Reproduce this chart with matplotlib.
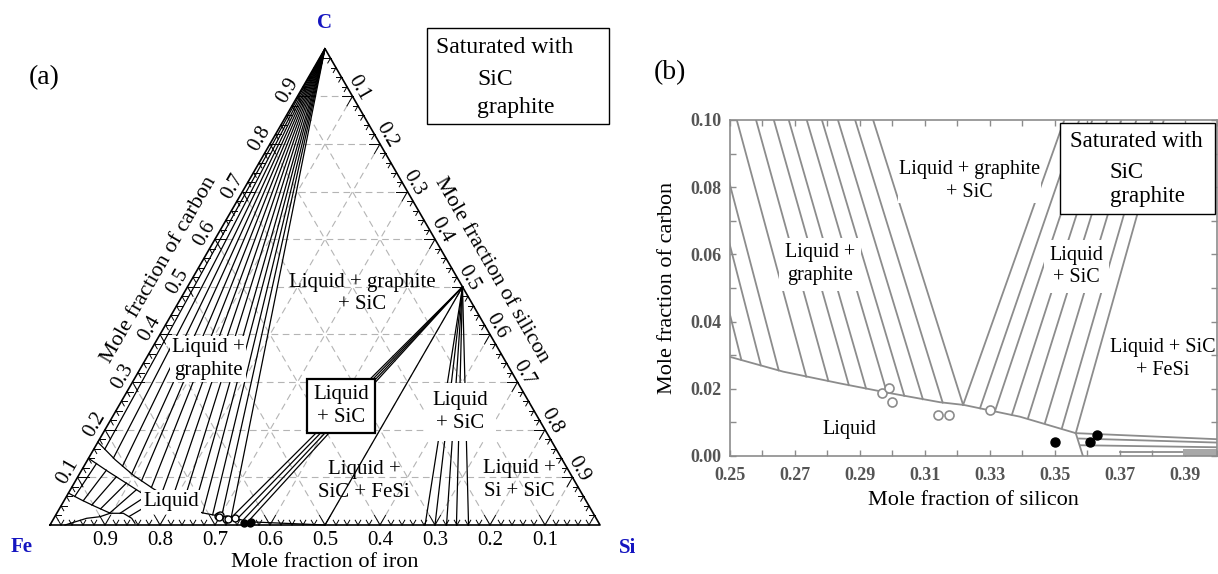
import numpy as np
import matplotlib
matplotlib.use('Agg')
import matplotlib.pyplot as plt
from matplotlib.patches import Rectangle
from matplotlib.ticker import MultipleLocator

plt.rcParams['font.family'] = 'serif'
plt.rcParams['font.serif'] = ['Liberation Serif', 'DejaVu Serif']

# compositions are (mole fraction Si, mole fraction C)
# graphite / SiC liquidus
liq_si = [0.0, 0.05, 0.10, 0.15, 0.20, 0.25, 0.2664, 0.2839, 0.2993, 0.3147, 0.322, 0.3393, 0.3565]
liq_c = [0.174, 0.137, 0.104, 0.076, 0.051, 0.0295, 0.0251, 0.0216, 0.0187, 0.0160, 0.0152, 0.0117, 0.0068]

# liquid ends of liquid + graphite tie lines, panel (a)
fan_si = [0.02, 0.045, 0.07, 0.095, 0.12, 0.145, 0.17, 0.195, 0.22, 0.245, 0.265, 0.285, 0.303, 0.3218]
fan_c = [0.159, 0.1407, 0.1238, 0.1073, 0.0928, 0.0788, 0.066, 0.0535, 0.0424, 0.0317, 0.0254, 0.0214, 0.018, 0.0152]

# liquid ends of liquid + graphite tie lines, panel (b)
gr_si = [0.2535, 0.2595, 0.2650, 0.2735, 0.2803, 0.2866, 0.2919, 0.2983, 0.3037, 0.3094, 0.3155, 0.3218]
gr_c = [0.0286, 0.0270, 0.0255, 0.0236, 0.0223, 0.0211, 0.0201, 0.0189, 0.0179, 0.0169, 0.0159, 0.0152]

# liquid ends of liquid + SiC tie lines (Fe-rich side), panel (a)
sic_a_si = [0.3218, 0.334, 0.346, 0.3565]
sic_a_c = [0.0152, 0.0127, 0.0103, 0.0068]

# liquid ends of liquid + SiC tie lines (Fe-rich side), panel (b)
sic_si = [0.3218, 0.3270, 0.3316, 0.3368, 0.3418, 0.3470, 0.3522, 0.3565]
sic_c = [0.0152, 0.0142, 0.0133, 0.0122, 0.0113, 0.0098, 0.0082, 0.0068]

# liquid ends of liquid + SiC tie lines (Si-rich side)
sic2_si = [0.682, 0.700, 0.721, 0.739, 0.761]
sic2_c = [0.0, 0.0, 0.0, 0.0, 0.0]

SIC = (0.5, 0.5)
FESI = (0.5, 0.0)

# Fe-rich corner (austenite)
gam_liq_si = [0.0, 0.05, 0.10, 0.15, 0.185]
gam_liq_c = [0.140, 0.112, 0.085, 0.058, 0.040]
gam_sol_si = [0.0, 0.03, 0.06, 0.0965]
gam_sol_c = [0.067, 0.053, 0.040, 0.025]
gam_dome_si = [0.0273, 0.0597, 0.0822, 0.0968, 0.121, 0.1415, 0.1527]
gam_dome_c = [0.0, 0.0141, 0.0174, 0.0246, 0.0246, 0.0141, 0.0036]
gam_tie_lo_si = [0.015, 0.035, 0.055, 0.075, 0.096, 0.115, 0.135]
gam_tie_lo_c = [0.060, 0.051, 0.042, 0.034, 0.025, 0.0246, 0.018]
gam_tie_hi_si = [0.02, 0.045, 0.07, 0.095, 0.12, 0.145, 0.165]
gam_tie_hi_c = [0.129, 0.115, 0.101, 0.088, 0.074, 0.061, 0.049]

# FeSi side lines near the base, panel (b)
fesi_edge_si = [0.3565, 0.3587]
fesi_edge_c = [0.0068, 0.0]
fesi_lines_si = [[0.3565, 0.40], [0.3575, 0.40], [0.3580, 0.40], [0.370, 0.3896]]
fesi_lines_c = [[0.0068, 0.0050], [0.0052, 0.0040], [0.0032, 0.0026], [0.0012, 0.0012]]

# measured compositions
open_si = [0.2967, 0.2991, 0.3000, 0.3142, 0.3173, 0.3300]
open_c = [0.0187, 0.0201, 0.0162, 0.0122, 0.0122, 0.0137]
full_si = [0.3501, 0.3609, 0.3629]
full_c = [0.0043, 0.0043, 0.0063]

tick_vals = [0.1, 0.2, 0.3, 0.4, 0.5, 0.6, 0.7, 0.8, 0.9]

BLUE = '#1515c0'
GRAY = '#8c8c8c'
S3 = np.sqrt(3) / 2


def tern(si, c):
    si = np.asarray(si, dtype=float)
    c = np.asarray(c, dtype=float)
    return si + 0.5 * c, c * S3


fig = plt.figure(figsize=(12.18, 5.74), dpi=100)

# ---------------- panel (a): ternary ----------------
ax = fig.add_axes([0, 0, 640 / 1218, 1])
ax.set_xlim(-50 / 550, 590 / 550)
ax.set_ylim(-49 / 550, 525 / 550)
ax.axis('off')

# dashed grid
for k in tick_vals:
    kw = dict(color='#b4b4b4', lw=0.8, dashes=(6, 4), zorder=1)
    ax.plot(*tern([0, 1 - k], [k, k]), **kw)
    ax.plot(*tern([k, k], [0, 1 - k]), **kw)
    ax.plot(*tern([1 - k, 0], [0, 1 - k]), **kw)

# triangle
ax.plot(*tern([0, 1, 0, 0], [0, 0, 1, 0]), color='k', lw=1.2, zorder=3)

# ticks
for i in range(1, 50):
    v = i * 0.02
    L = 0.02 if i % 5 == 0 else 0.01
    px, py = tern(v, 0)
    for dx, dy in [(0.5, S3), (-0.5, S3)]:
        ax.plot([px, px + L * dx], [py, py + L * dy], color='k', lw=0.7, zorder=3)
    px, py = tern(0, v)
    for dx, dy in [(1, 0), (0.5, -S3)]:
        ax.plot([px, px + L * dx], [py, py + L * dy], color='k', lw=0.7, zorder=3)
    px, py = tern(v, 1 - v)
    for dx, dy in [(-1, 0), (-0.5, -S3)]:
        ax.plot([px, px + L * dx], [py, py + L * dy], color='k', lw=0.7, zorder=3)

# tick labels
for v in tick_vals:
    px, py = tern(1 - v, 0)
    ax.text(px, py - 0.0273, '%.1f' % v, ha='center', va='center', fontsize=15)
    px, py = tern(0, v)
    ax.text(px - 0.0205 * 0.866, py + 0.0205 * 0.5, '%.1f' % v, ha='center', va='center',
            fontsize=15, rotation=60, rotation_mode='anchor')
    px, py = tern(v, 1 - v)
    ax.text(px + 0.0176 * 0.866 - 0.008 * 0.5, py + 0.0176 * 0.5 + 0.008 * S3, '%.1f' % v,
            ha='center', va='center', fontsize=15, rotation=-60, rotation_mode='anchor')

ax.text(0.5, -0.069, 'Mole fraction of iron', ha='center', va='center', fontsize=16)
ax.text(0.198, 0.463, 'Mole fraction of carbon', ha='center', va='center', fontsize=16,
        rotation=60, rotation_mode='anchor')
ax.text(0.803, 0.4635, 'Mole fraction of silicon', ha='center', va='center', fontsize=16,
        rotation=-60, rotation_mode='anchor')

ax.text(0.499, 0.9127, 'C', ha='center', va='center', fontsize=15, fontweight='bold', color=BLUE)
ax.text(-0.0515, -0.040, 'Fe', ha='center', va='center', fontsize=15, fontweight='bold', color=BLUE)
ax.text(1.051, -0.042, 'Si', ha='center', va='center', fontsize=15, fontweight='bold', color=BLUE)

line_kw = dict(color='k', lw=0.9, zorder=2)
# graphite fan
for s, c in zip(fan_si, fan_c):
    ax.plot(*tern([0, s], [1, c]), **line_kw)
# SiC tie lines
for s, c in zip(sic_a_si, sic_a_c):
    ax.plot(*tern([SIC[0], s], [SIC[1], c]), **line_kw)
for s, c in zip(sic2_si, sic2_c):
    ax.plot(*tern([SIC[0], s], [SIC[1], c]), **line_kw)
ax.plot(*tern([SIC[0], FESI[0]], [SIC[1], FESI[1]]), **line_kw)
ax.plot(*tern([sic_a_si[-1], FESI[0]], [sic_a_c[-1], FESI[1]]), **line_kw)
ax.plot(*tern(liq_si, liq_c), **line_kw)
# Fe corner
ax.plot(*tern(gam_liq_si, gam_liq_c), **line_kw)
ax.plot(*tern(gam_sol_si, gam_sol_c), **line_kw)
ax.plot(*tern(gam_dome_si, gam_dome_c), **line_kw)
for a, b, c, d in zip(gam_tie_lo_si, gam_tie_lo_c, gam_tie_hi_si, gam_tie_hi_c):
    ax.plot(*tern([a, c], [b, d]), **line_kw)

ax.plot(*tern(open_si, open_c), 'o', ms=5, mfc='white', mec='k', mew=1.0, zorder=4)
ax.plot(*tern(full_si, full_c), 'o', ms=5, mfc='k', mec='k', zorder=4)

white = dict(facecolor='white', edgecolor='none', pad=1.5)
lab_kw = dict(ha='center', va='center', fontsize=15, linespacing=1.25, zorder=6)


def tlabel(si, c, s, **kw):
    x, y = tern(si, c)
    ax.text(x, y, s, **lab_kw, **kw)


tlabel(0.324, 0.486, 'Liquid + graphite\n+ SiC')
tlabel(0.113, 0.3485, 'Liquid +\ngraphite', bbox=white)
tlabel(0.404, 0.250, 'Liquid\n+ SiC',
       bbox=dict(boxstyle='square,pad=0.3', facecolor='white', edgecolor='k', lw=1.6))
tlabel(0.627, 0.2373, 'Liquid\n+ SiC', bbox=dict(facecolor='white', edgecolor='none', pad=6))
tlabel(0.5247, 0.0924, 'Liquid +\nSiC + FeSi')
tlabel(0.8055, 0.0945, 'Liquid +\nSi + SiC')
tlabel(0.196, 0.0483, 'Liquid', bbox=white)

ax.add_patch(Rectangle((0.6855, 0.7291), 0.3309, 0.1745, facecolor='white', edgecolor='k',
                       lw=1.0, zorder=6))
ax.text(0.7018, 0.8673, 'Saturated with', ha='left', va='center', fontsize=17, zorder=7)
ax.text(0.7764, 0.8091, 'SiC', ha='left', va='center', fontsize=17, zorder=7)
ax.text(0.7764, 0.7600, 'graphite', ha='left', va='center', fontsize=17, zorder=7)

fig.text(44 / 1218, 1 - 78 / 574, '(a)', ha='center', va='center', fontsize=20)
fig.text(670 / 1218, 1 - 73 / 574, '(b)', ha='center', va='center', fontsize=20)

# ---------------- panel (b): enlargement ----------------
bx = fig.add_axes([730 / 1218, 118 / 574, 487 / 1218, 336 / 574])
bx.set_xlim(0.25, 0.40)
bx.set_ylim(0, 0.10)

g_kw = dict(color=GRAY, lw=1.3, zorder=2)
for s, c in zip(gr_si, gr_c):
    bx.plot([0, s], [1, c], **g_kw)
for s, c in zip(sic_si, sic_c):
    bx.plot([SIC[0], s], [SIC[1], c], **g_kw)
bx.plot(liq_si, liq_c, **g_kw)
bx.plot(fesi_edge_si, fesi_edge_c, **g_kw)
for s, c in zip(fesi_lines_si, fesi_lines_c):
    bx.plot(s, c, **g_kw)
bx.fill_between([0.3896, 0.40], 0, 0.0022, color='#a8a8a8', lw=0, zorder=2)

bx.plot(open_si, open_c, 'o', ms=6.5, mfc='white', mec=GRAY, mew=1.2, zorder=4)
bx.plot(full_si, full_c, 'o', ms=6.5, mfc='k', mec='k', zorder=4)

bx.set_xticks([0.25, 0.27, 0.29, 0.31, 0.33, 0.35, 0.37, 0.39])
bx.set_yticks([0.0, 0.02, 0.04, 0.06, 0.08, 0.10])
bx.xaxis.set_minor_locator(MultipleLocator(0.01))
bx.yaxis.set_minor_locator(MultipleLocator(0.01))
bx.set_xticklabels(['%.2f' % v for v in bx.get_xticks()])
bx.set_yticklabels(['%.2f' % v for v in bx.get_yticks()])
bx.tick_params(which='both', direction='in', top=True, right=True, length=4, width=1,
               color=GRAY, labelcolor='#555555', labelsize=13)
bx.tick_params(axis='x', pad=8)
bx.tick_params(axis='y', pad=6)
for lab in bx.get_xticklabels() + bx.get_yticklabels():
    lab.set_fontweight('bold')
for sp in bx.spines.values():
    sp.set_color(GRAY)
    sp.set_linewidth(1.2)

bx.text(0.5, -0.131, 'Mole fraction of silicon', transform=bx.transAxes, ha='center',
        va='center', fontsize=16)
bx.text(-0.129, 0.5, 'Mole fraction of carbon', transform=bx.transAxes, ha='center',
        va='center', fontsize=16, rotation=90)

blab = dict(ha='center', va='center', fontsize=14.5, linespacing=1.25, zorder=6)
bx.text(0.3238, 0.0818, 'Liquid + graphite\n+ SiC', bbox=dict(facecolor='white', edgecolor='none', pad=0.5), **blab)
bx.text(0.2777, 0.0571, 'Liquid +\ngraphite', bbox=dict(facecolor='white', edgecolor='none', pad=4), **blab)
bx.text(0.3566, 0.0564, 'Liquid\n+ SiC', bbox=dict(facecolor='white', edgecolor='none', pad=4), **blab)
bx.text(0.3834, 0.0289, 'Liquid + SiC\n+ FeSi', **blab)
bx.text(0.2867, 0.0080, 'Liquid', **blab)

bx.add_patch(Rectangle((0.3516, 0.0720), 0.0478, 0.0271, facecolor='white', edgecolor='k',
                       lw=1.0, zorder=6, clip_on=False))
bx.text(0.3547, 0.0935, 'Saturated with', ha='left', va='center', fontsize=16.5, zorder=7)
bx.text(0.3670, 0.0845, 'SiC', ha='left', va='center', fontsize=16.5, zorder=7)
bx.text(0.3670, 0.0771, 'graphite', ha='left', va='center', fontsize=16.5, zorder=7)

fig.savefig('out.png', dpi=100)
